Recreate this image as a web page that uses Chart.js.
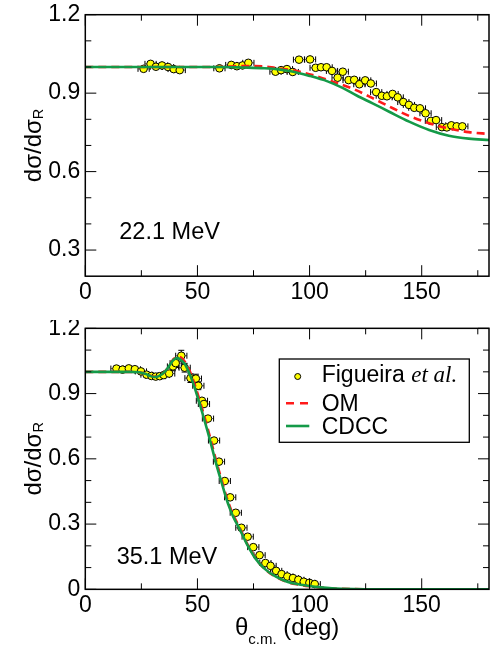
<!DOCTYPE html>
<html><head><meta charset="utf-8">
<script src="https://cdn.jsdelivr.net/npm/chart.js@4.4.1/dist/chart.umd.min.js"></script>
<style>
html,body{margin:0;padding:0;background:#fff;}
#wrap{position:relative;width:494px;height:649px;overflow:hidden;}
.pane{position:absolute;left:0;width:494px;}
</style></head><body>
<div id="wrap">
<div class="pane" style="top:0;height:320px;"><canvas id="c1" width="494" height="320"></canvas></div>
<div class="pane" style="top:320px;height:329px;"><canvas id="c2" width="494" height="329"></canvas></div>
</div>
<script>
// ---------- tick labels ----------
const xTickValues = [0, 50, 100, 150];
const xTickLabels = ['0', '50', '100', '150'];
const xMinorTicks = [25, 75, 125, 175];
const yTickValuesTop = [0.3, 0.6, 0.9, 1.2];
const yTickLabelsTop = ['0.3', '0.6', '0.9', '1.2'];
const yMinorTop = [0.4, 0.5, 0.7, 0.8, 1.0, 1.1];
const yTickValuesBottom = [0, 0.3, 0.6, 0.9, 1.2];
const yTickLabelsBottom = ['0', '0.3', '0.6', '0.9', '1.2'];
const yMinorBottom = [0.1, 0.2, 0.4, 0.5, 0.7, 0.8, 1.0, 1.1];

// ---------- 22.1 MeV ----------
const dataTopTheta = [26, 29.1, 31.5, 34.2, 36.9, 39.4, 42.1, 59.8, 65.1, 67.6, 70.1, 72.7, 84.8, 87.3, 89.9, 92.5, 95.3, 100.2, 102.7, 105.1, 107.6, 110, 112.5, 114.8, 117.4, 119.9, 122.2, 124.8, 127.3, 129.7, 132.2, 134.5, 137, 139.3, 141.8, 144.3, 146.7, 149.2, 151.7, 154.1, 156.4, 159, 161.2, 163.2, 165.6, 168.1];
const dataTopRatio = [0.993, 1.012, 1.001, 1.006, 1.0, 0.992, 0.988, 0.995, 1.008, 1.003, 1.006, 1.016, 0.982, 0.988, 0.992, 0.981, 1.028, 1.029, 0.997, 0.999, 0.999, 0.985, 0.959, 0.982, 0.950, 0.951, 0.934, 0.949, 0.937, 0.904, 0.890, 0.888, 0.897, 0.884, 0.866, 0.855, 0.844, 0.842, 0.823, 0.794, 0.797, 0.770, 0.769, 0.777, 0.773, 0.773];
const dataTopXErr = 2.5;
const dataTopYErr = 0.008;
const omTopTheta = [0, 20, 40, 55, 65, 72, 79, 85, 92.6, 101.4, 110.3, 119.2, 128.1, 135.5, 144.4, 153.3, 162.1, 171, 180];
const omTopRatio = [1, 1, 1, 1.0, 1.002, 1.004, 1.003, 0.996, 0.987, 0.969, 0.944, 0.917, 0.881, 0.849, 0.813, 0.785, 0.765, 0.751, 0.744];
const cdccTopTheta = [0, 20, 40, 60, 70, 80, 87, 91, 100, 108, 114.7, 121, 128.1, 135.5, 144.4, 153.3, 162.1, 171, 180];
const cdccTopRatio = [1, 1, 1, 1.0, 0.998, 0.995, 0.99, 0.985, 0.966, 0.945, 0.92, 0.891, 0.861, 0.829, 0.791, 0.759, 0.737, 0.726, 0.721];

// ---------- 35.1 MeV ----------
const dataBotTheta = [13.9, 16.6, 19.4, 22.1, 24.8, 27.3, 29.5, 31.4, 33.2, 35, 37.4, 39.1, 40.3, 42.8, 44.3, 46.9, 49.3, 50.4, 52, 52.9, 54.7, 57.4, 59.6, 62.2, 64.6, 67.1, 69.6, 72.4, 74.9, 77.7, 80.3, 82.6, 85.1, 87.5, 90.1, 92.6, 95.0, 97.4, 99.9, 102.3];
const dataBotRatio = [1.015, 1.01, 1.016, 1.012, 1.002, 0.987, 0.981, 0.978, 0.98, 0.985, 0.992, 1.025, 1.04, 1.074, 1.019, 0.971, 0.969, 0.936, 0.867, 0.852, 0.785, 0.684, 0.587, 0.498, 0.423, 0.352, 0.283, 0.242, 0.194, 0.157, 0.121, 0.108, 0.085, 0.070, 0.059, 0.052, 0.044, 0.035, 0.030, 0.024];
const dataBotXErr = 2.5;
const dataBotYErr = [0.012, 0.012, 0.012, 0.012, 0.015, 0.015, 0.015, 0.015, 0.015, 0.015, 0.015, 0.02, 0.02, 0.025, 0.02, 0.02, 0.02, 0.018, 0.015, 0.015, 0.012, 0.01, 0.01, 0.008, 0.008, 0.007, 0.006, 0.005, 0.005, 0.004, 0.004, 0.003, 0.003, 0.003, 0.002, 0.002, 0.002, 0.002, 0.002, 0.002];
const curveBotTheta = [0, 20, 24, 27, 29, 31, 33, 35.4, 37.6, 39.1, 40.8, 42, 44.3, 47.3, 50.2, 52.5, 54.7, 56.7, 58.7, 60.8, 62.8, 64.5, 66, 69, 72, 76, 80, 85, 90, 95, 100, 105, 110, 120, 130, 180];
const cdccBotRatio = [1, 1, 0.998, 0.99, 0.981, 0.976, 0.981, 1.0, 1.03, 1.053, 1.063, 1.06, 1.037, 0.97, 0.88, 0.8, 0.72, 0.642, 0.564, 0.49, 0.42, 0.37, 0.333, 0.273, 0.209, 0.14, 0.094, 0.058, 0.035, 0.023, 0.015, 0.009, 0.005, 0.0015, 0.0003, 0];
const omBotRatio = [1, 1, 0.998, 0.99, 0.982, 0.977, 0.982, 1.0, 1.03, 1.055, 1.068, 1.068, 1.047, 0.985, 0.895, 0.815, 0.735, 0.656, 0.577, 0.502, 0.43, 0.379, 0.341, 0.279, 0.213, 0.142, 0.094, 0.057, 0.034, 0.022, 0.014, 0.008, 0.004, 0.001, 0.0002, 0];

// ---------- styling ----------
const FONT = '"Liberation Sans", Arial, Helvetica, sans-serif';
const SERIF = '"Liberation Serif", "Times New Roman", serif';
const RED = '#ff1a1a';
const GREEN = '#149a48';
const YELLOW = '#ffff00';

function pts(xs, ys) { return xs.map((x, i) => ({ x: x, y: ys[i] })); }

const framePlugin = {
  id: 'frame',
  beforeDatasetsDraw(chart, args, o) {
    const ctx = chart.ctx, xs = chart.scales.x, ys = chart.scales.y, a = chart.chartArea;
    const data = chart.data.datasets[2].data;
    ctx.save();
    ctx.beginPath(); ctx.rect(a.left, a.top, a.right - a.left, a.bottom - a.top); ctx.clip();
    data.forEach((p, i) => {
      const px = xs.getPixelForValue(p.x), py = ys.getPixelForValue(p.y);
      const xl = xs.getPixelForValue(p.x - o.xErr), xr = xs.getPixelForValue(p.x + o.xErr);
      ctx.lineWidth = 1;
      ctx.strokeStyle = '#6a6a6a';
      ctx.beginPath(); ctx.moveTo(xl, py); ctx.lineTo(xr, py); ctx.stroke();
      ctx.strokeStyle = '#000';
      ctx.beginPath();
      ctx.moveTo(xl, py - 3); ctx.lineTo(xl, py + 3);
      ctx.moveTo(xr, py - 3); ctx.lineTo(xr, py + 3);
      ctx.stroke();
      const ye = Array.isArray(o.yErr) ? o.yErr[i] : o.yErr;
      const yt = ys.getPixelForValue(p.y + ye), yb = ys.getPixelForValue(p.y - ye);
      if (yb - yt > 7) {
        ctx.beginPath();
        ctx.moveTo(px, yt); ctx.lineTo(px, yb);
        ctx.moveTo(px - 3, yt); ctx.lineTo(px + 3, yt);
        ctx.moveTo(px - 3, yb); ctx.lineTo(px + 3, yb);
        ctx.stroke();
      }
    });
    ctx.restore();
  },
  afterDatasetsDraw(chart, args, o) {
    const ctx = chart.ctx, xs = chart.scales.x, ys = chart.scales.y, a = chart.chartArea;
    ctx.save();
    ctx.strokeStyle = '#000';
    ctx.lineWidth = 1;
    const MAJ = 11, MIN = 6;
    ctx.beginPath();
    o.xMajor.forEach(v => { const x = xs.getPixelForValue(v);
      ctx.moveTo(x, a.bottom); ctx.lineTo(x, a.bottom - MAJ); ctx.moveTo(x, a.top); ctx.lineTo(x, a.top + MAJ); });
    o.xMinor.forEach(v => { const x = xs.getPixelForValue(v);
      ctx.moveTo(x, a.bottom); ctx.lineTo(x, a.bottom - MIN); ctx.moveTo(x, a.top); ctx.lineTo(x, a.top + MIN); });
    o.yMajor.forEach(v => { const y = ys.getPixelForValue(v);
      ctx.moveTo(a.left, y); ctx.lineTo(a.left + MAJ, y); ctx.moveTo(a.right, y); ctx.lineTo(a.right - MAJ, y); });
    o.yMinor.forEach(v => { const y = ys.getPixelForValue(v);
      ctx.moveTo(a.left, y); ctx.lineTo(a.left + MIN, y); ctx.moveTo(a.right, y); ctx.lineTo(a.right - MIN, y); });
    ctx.stroke();
    ctx.lineWidth = 1.5;
    ctx.strokeRect(a.left, a.top, a.right - a.left, a.bottom - a.top);
    ctx.restore();
  },
  afterDraw(chart, args, o) {
    const ctx = chart.ctx, a = chart.chartArea;
    ctx.save();
    ctx.fillStyle = '#000';
    ctx.textAlign = 'left';
    ctx.textBaseline = 'alphabetic';
    // energy label
    ctx.font = '23.5px ' + FONT;
    ctx.fillText(o.label, o.labelX, o.labelY);
    // y title
    ctx.save();
    ctx.translate(40.5, (a.top + a.bottom) / 2);
    ctx.rotate(-Math.PI / 2);
    ctx.font = '24px ' + FONT;
    const w1 = ctx.measureText('dσ/dσ').width;
    ctx.font = '14.5px ' + FONT;
    const w2 = ctx.measureText('R').width;
    const x0 = -(w1 + w2) / 2;
    ctx.font = '24px ' + FONT;
    ctx.fillText('dσ/dσ', x0, 0);
    ctx.font = '14.5px ' + FONT;
    ctx.fillText('R', x0 + w1, 2);
    ctx.restore();
    if (o.xTitle) {
      ctx.font = '24px ' + FONT;
      const t1 = ctx.measureText('θ').width, t3 = ctx.measureText(' (deg)').width;
      ctx.font = '15px ' + FONT;
      const t2 = ctx.measureText('c.m.').width;
      let x = (a.left + a.right) / 2 - (t1 + t2 + t3) / 2;
      const base = o.xTitleY;
      ctx.font = '24px ' + FONT; ctx.fillText('θ', x, base); x += t1;
      ctx.font = '15px ' + FONT; ctx.fillText('c.m.', x, base + 9); x += t2;
      ctx.font = '24px ' + FONT; ctx.fillText(' (deg)', x, base);
    }
    if (o.legend) {
      const L = o.legend;
      ctx.fillStyle = '#fff';
      ctx.fillRect(L.x, L.y, L.w, L.h);
      ctx.strokeStyle = '#000'; ctx.lineWidth = 1.3;
      ctx.strokeRect(L.x, L.y, L.w, L.h);
      // row 1: data marker
      ctx.beginPath(); ctx.arc(L.x + 18.4, L.y + 17.5, 3, 0, Math.PI * 2);
      ctx.fillStyle = YELLOW; ctx.fill(); ctx.lineWidth = 1; ctx.strokeStyle = '#000'; ctx.stroke();
      ctx.fillStyle = '#000';
      ctx.font = '23px ' + FONT;
      const tx = L.x + 42.4;
      ctx.fillText('Figueira ', tx, L.y + 23.3);
      const fw = ctx.measureText('Figueira ').width;
      ctx.font = 'italic 23px ' + SERIF;
      ctx.fillText('et al.', tx + fw, L.y + 23.3);
      // row 2: OM
      ctx.strokeStyle = RED; ctx.lineWidth = 2.6; ctx.setLineDash([8, 6]);
      ctx.beginPath(); ctx.moveTo(L.x + 6.7, L.y + 44.3); ctx.lineTo(L.x + 30, L.y + 44.3); ctx.stroke();
      ctx.setLineDash([]);
      ctx.font = '23px ' + FONT;
      ctx.fillText('OM', tx, L.y + 52);
      // row 3: CDCC
      ctx.strokeStyle = GREEN;
      ctx.beginPath(); ctx.moveTo(L.x + 6.7, L.y + 67); ctx.lineTo(L.x + 30, L.y + 67); ctx.stroke();
      ctx.fillText('CDCC', tx, L.y + 75.3);
    }
    ctx.restore();
  }
};

function makeChart(canvas, c) {
  return new Chart(canvas, {
    type: 'scatter',
    data: {
      datasets: [
        { label: 'CDCC', data: pts(c.cdccX, c.cdccY), showLine: true, borderColor: GREEN, borderWidth: 2.6,
          pointRadius: 0, pointHoverRadius: 0, cubicInterpolationMode: 'monotone', fill: false, order: 1 },
        { label: 'OM', data: pts(c.omX, c.omY), showLine: true, borderColor: RED, borderWidth: 2.6, borderDash: [8, 5],
          pointRadius: 0, pointHoverRadius: 0, cubicInterpolationMode: 'monotone', fill: false, order: 2 },
        { label: 'Figueira et al.', data: pts(c.dataX, c.dataY), showLine: false, pointRadius: 3.8,
          pointBackgroundColor: YELLOW, pointBorderColor: '#000', pointBorderWidth: 1, order: 3 }
      ]
    },
    options: {
      responsive: false,
      animation: false,
      events: [],
      layout: { padding: { left: 0, right: 4, top: c.padTop, bottom: 0 } },
      plugins: { legend: { display: false }, tooltip: { enabled: false }, frame: c.frame },
      scales: {
        x: {
          type: 'linear', min: 0, max: 180,
          grid: { display: false, drawTicks: false }, border: { display: false },
          afterBuildTicks: s => { s.ticks = xTickValues.map(v => ({ value: v })); },
          ticks: { callback: (v, i) => xTickLabels[i], font: { family: FONT, size: 23 }, color: '#000',
                   padding: 3, maxRotation: 0, autoSkip: false },
          afterFit: s => { s.height = c.xAxisH; s.paddingLeft = 0; s.paddingRight = 0; }
        },
        y: {
          type: 'linear', min: c.yMin, max: 1.2,
          grid: { display: false, drawTicks: false }, border: { display: false },
          afterBuildTicks: s => { s.ticks = c.yTicks.map(v => ({ value: v })); },
          ticks: { callback: (v, i) => c.yLabels[i], font: { family: FONT, size: 23 }, color: '#000',
                   padding: 5, autoSkip: false },
          afterFit: s => { s.width = 85.3; s.paddingTop = 0; s.paddingBottom = 0; }
        }
      }
    },
    plugins: [framePlugin]
  });
}

makeChart(document.getElementById('c1'), {
  cdccX: cdccTopTheta, cdccY: cdccTopRatio, omX: omTopTheta, omY: omTopRatio,
  dataX: dataTopTheta, dataY: dataTopRatio,
  padTop: 14.7, xAxisH: 43.8, yMin: 0.2, yTicks: yTickValuesTop, yLabels: yTickLabelsTop,
  frame: { xErr: dataTopXErr, yErr: dataTopYErr, xMajor: xTickValues, xMinor: xMinorTicks,
           yMajor: yTickValuesTop, yMinor: yMinorTop, label: '22.1 MeV', labelX: 119.3, labelY: 239.3,
           xTitle: false, legend: null }
});

makeChart(document.getElementById('c2'), {
  cdccX: curveBotTheta, cdccY: cdccBotRatio, omX: curveBotTheta, omY: omBotRatio,
  dataX: dataBotTheta, dataY: dataBotRatio,
  padTop: 8.33, xAxisH: 59.67, yMin: 0, yTicks: yTickValuesBottom, yLabels: yTickLabelsBottom,
  frame: { xErr: dataBotXErr, yErr: dataBotYErr, xMajor: xTickValues, xMinor: xMinorTicks,
           yMajor: yTickValuesBottom, yMinor: yMinorBottom, label: '35.1 MeV', labelX: 116.7, labelY: 244.3,
           xTitle: true, xTitleY: 315,
           legend: { x: 279.3, y: 39, w: 190, h: 83.3 } }
});
</script>
</body></html>
